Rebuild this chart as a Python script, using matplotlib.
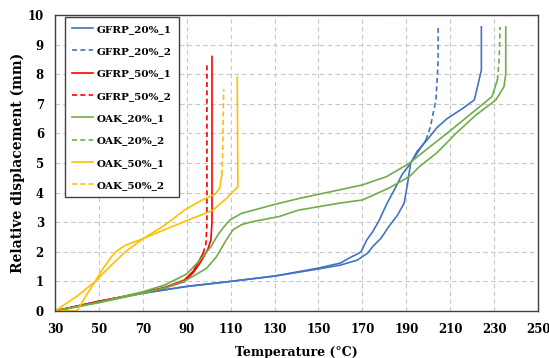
import numpy as np
import matplotlib.pyplot as plt

plt.rcParams['font.family'] = 'DejaVu Serif'
plt.rcParams['font.weight'] = 'bold'

# temperature (°C) / relative displacement (mm)
gfrp20_1_t = [30, 50, 70, 90, 110, 130, 150, 160, 167.7, 172.3, 175, 178.5, 182, 186, 189, 190.6, 192, 195, 199.5, 204, 208.6, 214.8, 221, 222.5, 224.2, 224.2]
gfrp20_1_d = [0, 0.33, 0.6, 0.83, 1.0, 1.18, 1.42, 1.55, 1.72, 1.95, 2.2, 2.46, 2.85, 3.24, 3.64, 4.31, 5.0, 5.4, 5.78, 6.2, 6.5, 6.8, 7.13, 7.6, 8.14, 9.6]
gfrp20_2_t = [30, 50, 70, 90, 110, 130, 150, 160, 164, 167, 169.4, 172, 174.7, 177.7, 181, 185.3, 188, 192, 196, 199, 201, 203.5, 204.2, 204.5, 204.5]
gfrp20_2_d = [0, 0.33, 0.6, 0.83, 1.0, 1.18, 1.45, 1.62, 1.79, 1.9, 2.0, 2.4, 2.68, 3.07, 3.6, 4.2, 4.6, 5.0, 5.45, 5.78, 6.23, 7.13, 8.0, 8.5, 9.6]
gfrp50_1_t = [30, 50, 70, 80, 89, 93, 96, 99.5, 101, 101.5, 101.5]
gfrp50_1_d = [0, 0.32, 0.62, 0.78, 1.0, 1.3, 1.62, 2.06, 2.4, 3.0, 8.6]
gfrp50_2_t = [30, 50, 70, 80, 89, 93, 96, 97.5, 98.8, 99.2, 99.2]
gfrp50_2_d = [0, 0.32, 0.62, 0.8, 1.05, 1.35, 1.75, 1.95, 2.3, 3.0, 8.3]
oak20_1_t = [30, 50, 70, 80, 90, 99, 103.5, 108, 111, 115, 120, 132, 141, 160, 170, 182, 191.4, 196, 204, 212.6, 221.7, 230.8, 234.5, 235.3, 235.3]
oak20_1_d = [0, 0.28, 0.6, 0.78, 1.05, 1.44, 1.83, 2.4, 2.74, 2.92, 3.02, 3.19, 3.41, 3.65, 3.75, 4.15, 4.54, 4.88, 5.35, 6.0, 6.62, 7.13, 7.58, 8.0, 9.6]
oak20_2_t = [30, 50, 70, 80, 90, 96, 101, 104, 106.5, 109.5, 115, 130, 141, 160, 170, 181, 191.4, 196, 209.5, 221.7, 229, 231.5, 232.3, 232.7]
oak20_2_d = [0, 0.3, 0.65, 0.88, 1.25, 1.72, 2.17, 2.55, 2.8, 3.07, 3.3, 3.6, 3.8, 4.1, 4.26, 4.54, 4.99, 5.27, 6.06, 6.8, 7.24, 7.8, 8.5, 9.6]
oak50_1_t = [30, 40, 44, 48.2, 52, 55.8, 58, 62, 70.2, 80, 89, 102, 108, 113.3, 113.3, 113]
oak50_1_d = [0, 0, 0.5, 0.99, 1.45, 1.84, 2.02, 2.22, 2.45, 2.75, 3.02, 3.41, 3.8, 4.2, 4.3, 7.9]
oak50_2_t = [30, 40, 48.2, 55, 62, 70.2, 80, 89, 97, 103, 105, 106, 106.4, 106.8]
oak50_2_d = [0, 0.5, 0.99, 1.5, 2.0, 2.45, 2.9, 3.41, 3.75, 3.95, 4.15, 4.6, 5.44, 7.5]

x_ticks = np.arange(30, 251, 20)
y_ticks = np.arange(0, 11, 1)

blue, red, green, yellow = '#4472C4', '#FF0000', '#70AD47', '#FFC000'
lw = 1.2
dash = (0, (3, 2))

fig = plt.figure(figsize=(5.49, 3.58), dpi=100)
ax = fig.add_axes([0.1002, 0.1313, 0.8798, 0.8267])


def solid(t, d, color, label):
    ax.plot(t, d, color=color, lw=lw, label=label)


def dashed(t, d, color, label, k):
    # the dense lower part renders as a continuous line, only the long tail shows dashes
    ax.plot(t[:k + 1], d[:k + 1], color=color, lw=lw)
    ax.plot(t[k:], d[k:], color=color, lw=lw, ls=dash, label=label)


solid(gfrp20_1_t, gfrp20_1_d, blue, 'GFRP_20%_1')
dashed(gfrp20_2_t, gfrp20_2_d, blue, 'GFRP_20%_2', 19)
solid(gfrp50_1_t, gfrp50_1_d, red, 'GFRP_50%_1')
dashed(gfrp50_2_t, gfrp50_2_d, red, 'GFRP_50%_2', 7)
solid(oak20_1_t, oak20_1_d, green, 'OAK_20%_1')
dashed(oak20_2_t, oak20_2_d, green, 'OAK_20%_2', 21)
solid(oak50_1_t, oak50_1_d, yellow, 'OAK_50%_1')
dashed(oak50_2_t, oak50_2_d, yellow, 'OAK_50%_2', 11)

ax.set_xlim(30, 250)
ax.set_ylim(0, 10)
ax.set_xticks(x_ticks)
ax.set_yticks(y_ticks)
ax.tick_params(length=0, labelsize=8.5)
ax.tick_params(axis='x', pad=9)
ax.tick_params(axis='y', pad=8)
ax.grid(True, ls=(0, (4, 3)), color='#C8C8C8', lw=0.8)
ax.set_axisbelow(True)
for s in ax.spines.values():
    s.set_color('#404040')
    s.set_linewidth(1.0)

ax.set_xlabel('Temperature (°C)', fontsize=9, fontweight='bold', labelpad=7)
ax.set_ylabel('Relative displacement (mm)', fontsize=10, fontweight='bold', labelpad=2)

leg = ax.legend(loc='upper left', bbox_to_anchor=(0.0207, 0.993), borderaxespad=0,
                fontsize=7.5, labelspacing=1.25, handlelength=2.0, handletextpad=0.3,
                borderpad=0.7, fancybox=False, framealpha=1, edgecolor='#404040')
leg.get_frame().set_linewidth(1.0)

fig.savefig('out.png', dpi=100)
